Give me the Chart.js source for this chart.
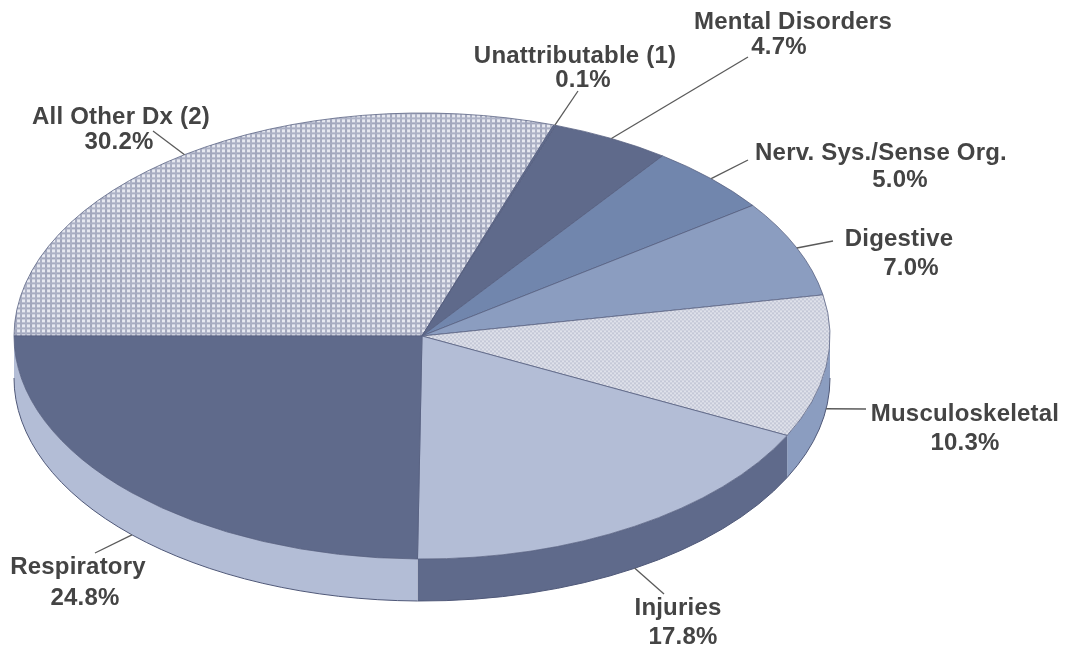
<!DOCTYPE html>
<html>
<head>
<meta charset="utf-8">
<title>Diagnosis share</title>
<script src="https://cdn.jsdelivr.net/npm/chart.js@4/dist/chart.umd.min.js"></script>
<style>
  html, body { margin: 0; padding: 0; background: #fff; }
  #wrap { width: 1065px; height: 647px; overflow: hidden; }
  canvas { filter: blur(0.7px); }
</style>
</head>
<body>
<div id="wrap"><canvas id="pie" width="1065" height="647"></canvas></div>
<script>
// Values, clockwise from the left edge of the pie
const categories = ['All Other Dx (2)', 'Unattributable (1)', 'Mental Disorders', 'Nerv. Sys./Sense Org.',
    'Digestive', 'Musculoskeletal', 'Injuries', 'Respiratory'];
const shares = [30.2, 0.1, 4.7, 5.0, 7.0, 10.3, 17.8, 24.8];

// Fake 3D settings
const squash = 223 / 408;
const depth = 42;

// Where each label goes: name centre, percent centre, outer end of the leader line
const labelSpots = [
    { nameX: 121, nameY: 117, pctX: 119, pctY: 142, lead: [153, 131] },
    { nameX: 575, nameY: 56, pctX: 583, pctY: 80, lead: [578, 91] },
    { nameX: 793, nameY: 22, pctX: 779, pctY: 47, lead: [748, 57] },
    { nameX: 881, nameY: 153, pctX: 900, pctY: 180, lead: [748, 160] },
    { nameX: 899, nameY: 239, pctX: 911, pctY: 268, lead: [833, 241] },
    { nameX: 965, nameY: 414, pctX: 965, pctY: 443, lead: [866, 409] },
    { nameX: 678, nameY: 608, pctX: 683, pctY: 637, lead: [664, 594] },
    { nameX: 78, nameY: 567, pctX: 85, pctY: 598, lead: [95, 553] }
];

// Tiled fills for the two textured slices, stretched so they stay square after the squash
function makeTile(size, paint) {
    const tile = document.createElement('canvas');
    tile.width = size;
    tile.height = size;
    paint(tile.getContext('2d'));
    const pattern = tile.getContext('2d').createPattern(tile, 'repeat');
    pattern.setTransform(new DOMMatrix().scale(1, 1 / squash));
    return pattern;
}

const gridFill = makeTile(15, g => {
    g.fillStyle = '#e6e8f0';
    g.fillRect(0, 0, 15, 15);
    [[0, '#a2a7bd'], [5, '#a8adc2'], [10, '#adb2c6']].forEach(([at, color]) => {
        g.fillStyle = color;
        g.fillRect(at, 0, 2, 15);
        g.fillRect(0, at, 15, 2);
    });
});

const dotFill = makeTile(4, g => {
    g.fillStyle = '#dfe1ea';
    g.fillRect(0, 0, 4, 4);
    g.fillStyle = '#c4c8d7';
    g.fillRect(0, 0, 2, 2);
    g.fillRect(2, 2, 2, 2);
});

const topColors = [gridFill, '#5f6a8b', '#5f6a8b', '#7186ad', '#8b9dc0', dotFill, '#b3bdd6', '#5f6a8b'];
const sideColors = ['#5f6a8b', '#5f6a8b', '#5f6a8b', '#7186ad', '#8b9dc0', '#8b9dc0', '#5f6a8b', '#b3bdd6'];

// Draws the wall under the front half, then squashes the pie into an ellipse
const tiltPlugin = {
    id: 'tilt',
    beforeDatasetsDraw(chart) {
        const ctx = chart.ctx;
        const arcs = chart.getDatasetMeta(0).data;
        arcs.forEach((arc, i) => {
            const from = Math.max(arc.startAngle, 0);
            const to = Math.min(arc.endAngle, Math.PI);
            if (to <= from) return;
            const rx = arc.outerRadius;
            const ry = rx * squash;
            ctx.beginPath();
            ctx.ellipse(arc.x, arc.y, rx, ry, 0, from, to);
            ctx.ellipse(arc.x, arc.y + depth, rx, ry, 0, to, from, true);
            ctx.closePath();
            ctx.fillStyle = sideColors[i];
            ctx.fill();
            // only the bottom rim gets an outline
            ctx.beginPath();
            ctx.ellipse(arc.x, arc.y + depth, rx, ry, 0, from, to);
            ctx.strokeStyle = '#4f5878';
            ctx.lineWidth = 1;
            ctx.stroke();
        });
        ctx.save();
        const cy = arcs[0].y;
        ctx.translate(0, cy);
        ctx.scale(1, squash);
        ctx.translate(0, -cy);
    },
    afterDatasetsDraw(chart) {
        chart.ctx.restore();
    }
};

// Category names, percentages and leader lines
const labelPlugin = {
    id: 'pieLabels',
    afterDraw(chart) {
        const ctx = chart.ctx;
        const arcs = chart.getDatasetMeta(0).data;
        ctx.save();
        arcs.forEach((arc, i) => {
            const spot = labelSpots[i];
            const mid = (arc.startAngle + arc.endAngle) / 2;
            const x = arc.x + arc.outerRadius * Math.cos(mid);
            let y = arc.y + arc.outerRadius * squash * Math.sin(mid);
            if (mid > 0) y += depth;
            ctx.beginPath();
            ctx.moveTo(x, y);
            ctx.lineTo(spot.lead[0], spot.lead[1]);
            ctx.strokeStyle = '#5a5a5a';
            ctx.lineWidth = 1.3;
            ctx.stroke();

            ctx.fillStyle = '#444444';
            ctx.font = 'bold 24px "Liberation Sans", Arial, sans-serif';
            ctx.letterSpacing = '0.2px';
            ctx.textAlign = 'center';
            ctx.textBaseline = 'middle';
            ctx.fillText(categories[i], spot.nameX, spot.nameY);
            ctx.fillText(shares[i].toFixed(1) + '%', spot.pctX, spot.pctY);
        });
        ctx.restore();
    }
};

new Chart(document.getElementById('pie').getContext('2d'), {
    type: 'pie',
    data: {
        labels: categories,
        datasets: [{
            data: shares,
            backgroundColor: topColors,
            borderColor: '#565f80',
            borderWidth: 1,
            clip: false
        }]
    },
    options: {
        responsive: false,
        animation: false,
        rotation: -90,
        radius: 408,
        layout: { padding: { top: 25, right: 221 } },
        plugins: {
            legend: { display: false },
            tooltip: { enabled: false }
        }
    },
    plugins: [tiltPlugin, labelPlugin]
});
</script>
</body>
</html>
